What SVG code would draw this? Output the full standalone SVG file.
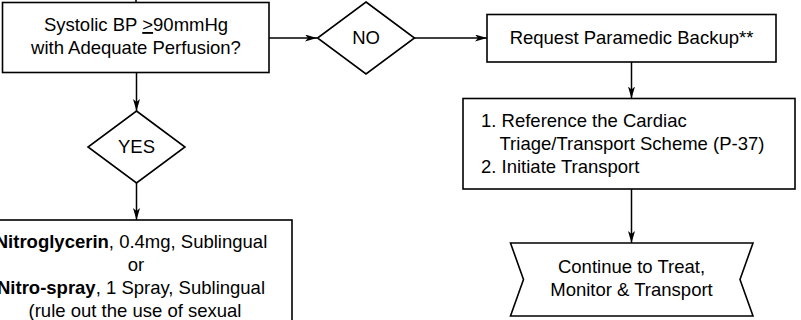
<svg xmlns="http://www.w3.org/2000/svg" width="801" height="320" viewBox="0 0 801 320">
<defs>
<style>
.box{fill:#fff;stroke:#000;stroke-width:1.6}
.t{font-family:"Liberation Sans",Arial,sans-serif;font-size:18.5px;fill:#000}
.c{text-anchor:middle}
.b{font-weight:bold}
.ln{fill:none;stroke:#000;stroke-width:1.5}
</style>
<marker id="arr" markerWidth="13" markerHeight="7" refX="12" refY="3.5" orient="auto" markerUnits="userSpaceOnUse">
<path d="M0,0 L12,3.5 L0,7 L3,3.5 z" fill="#000"/>
</marker>
</defs>
<g id="connectors">
<line class="ln" x1="136" y1="0" x2="136" y2="3"/>
<line class="ln" x1="269" y1="38" x2="317" y2="38" marker-end="url(#arr)"/>
<line class="ln" x1="414" y1="38" x2="487" y2="38" marker-end="url(#arr)"/>
<line class="ln" x1="136.5" y1="73" x2="136.5" y2="111" marker-end="url(#arr)"/>
<line class="ln" x1="136.5" y1="182" x2="136.5" y2="220" marker-end="url(#arr)"/>
<line class="ln" x1="631.5" y1="62" x2="631.5" y2="98.5" marker-end="url(#arr)"/>
<line class="ln" x1="631.5" y1="189" x2="631.5" y2="243" marker-end="url(#arr)"/>
</g>
<g id="bp-check">
<rect class="box" x="2.5" y="2.5" width="266.5" height="70"/>
<text class="t c" x="136" y="31">Systolic BP <tspan text-decoration="underline">&gt;</tspan>90mmHg</text>
<text class="t c" x="136" y="54">with Adequate Perfusion?</text>
</g>
<g id="no">
<polygon class="box" points="366,2 414.5,38 366,74 317.5,38"/>
<text class="t c" x="366" y="44">NO</text>
</g>
<g id="yes">
<polygon class="box" points="136.5,111 185,147 136.5,183 88,147"/>
<text class="t c" x="136.5" y="153">YES</text>
</g>
<g id="request-backup">
<rect class="box" x="487" y="14.5" width="289" height="47.5"/>
<text class="t c" x="631.5" y="44">Request Paramedic Backup**</text>
</g>
<g id="transport">
<rect class="box" x="463" y="98.5" width="332" height="90.5"/>
<text class="t" x="481" y="126.5">1. Reference the Cardiac</text>
<text class="t" x="499.5" y="149.5">Triage/Transport Scheme (P-37)</text>
<text class="t" x="481" y="172.5">2. Initiate Transport</text>
</g>
<g id="nitro">
<rect class="box" x="-21" y="220" width="313" height="130"/>
<text class="t c" x="131" y="247.5"><tspan class="b">Nitroglycerin</tspan>, 0.4mg, Sublingual</text>
<text class="t c" x="136" y="270.5">or</text>
<text class="t c" x="131" y="293.5"><tspan class="b">Nitro-spray</tspan>, 1 Spray, Sublingual</text>
<text class="t c" x="135" y="316.5">(rule out the use of sexual</text>
</g>
<g id="continue">
<polygon class="box" points="510.5,243 753,243 740,279.5 753,316 510.5,316 523.5,279.5"/>
<text class="t c" x="631.5" y="273">Continue to Treat,</text>
<text class="t c" x="631.5" y="296">Monitor &amp; Transport</text>
</g>
</svg>
